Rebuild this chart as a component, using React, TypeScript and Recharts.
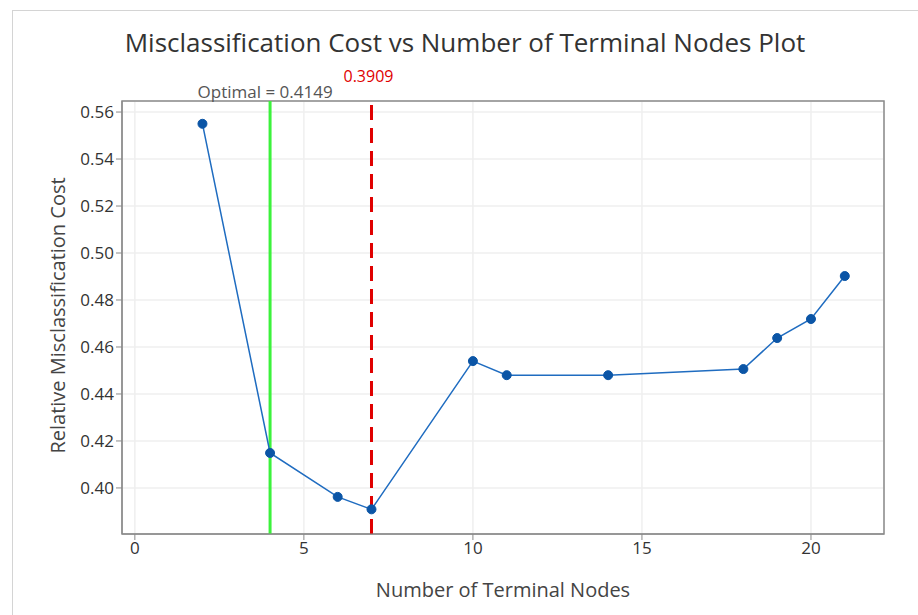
import React from 'react';
import { LineChart, Line, XAxis, YAxis, CartesianGrid, ReferenceLine, ReferenceArea } from 'recharts';

const nodes = [2, 4, 6, 7, 10, 11, 14, 18, 19, 20, 21];
const cost = [0.555, 0.4149, 0.3962, 0.3909, 0.454, 0.448, 0.448, 0.4506, 0.4638, 0.4719, 0.4902];
const xTicks = [0, 5, 10, 15, 20];
const yTicks = [0.4, 0.42, 0.44, 0.46, 0.48, 0.5, 0.52, 0.54, 0.56];
const optimalNodes = 4;
const optimalLabel = 'Optimal = 0.4149';
const minNodes = 7;
const minLabel = '0.3909';

const data = nodes.map((n, i) => ({ nodes: n, cost: cost[i] }));

const X_DOMAIN: [number, number] = [-0.38, 22.16];
const Y_DOMAIN: [number, number] = [0.3804, 0.5647];
const FONT = '"Open Sans", "Noto Sans", sans-serif';

const TopLabel = (props: any) => {
  const { viewBox, text, fill, dx, dy, size } = props;
  return (
    <text x={viewBox.x + dx} y={viewBox.y + dy} textAnchor="middle" fill={fill} fontSize={size} fontFamily={FONT}>
      {text}
    </text>
  );
};

const YLabel = (props: any) => {
  const { viewBox } = props;
  const x = viewBox.x - 5;
  const y = viewBox.y + viewBox.height / 2 - 2;
  return (
    <text x={x} y={y} transform={`rotate(-90, ${x}, ${y})`} textAnchor="middle" dominantBaseline="central" fill="#444" fontSize={20} fontFamily={FONT}>
      Relative Misclassification Cost
    </text>
  );
};

const XLabel = (props: any) => {
  const { viewBox } = props;
  return (
    <text x={viewBox.x + viewBox.width / 2} y={589} textAnchor="middle" dominantBaseline="central" fill="#444" fontSize={20} fontFamily={FONT}>
      Number of Terminal Nodes
    </text>
  );
};

const App: React.FC = () => {
  return (
    <div style={{ position: 'absolute', left: 0, top: 0, width: 918, height: 615, background: '#fff', overflow: 'hidden' }}>
      <div style={{ position: 'absolute', left: 12, top: 10, width: 930, height: 640, border: '1px solid #d4d4d4' }} />
      <div style={{ position: 'absolute', left: 0, top: 24, width: 930, textAlign: 'center', fontFamily: FONT, fontSize: 26, color: '#333' }}>
        Misclassification Cost vs Number of Terminal Nodes Plot
      </div>
      <div style={{ position: 'absolute', left: 0, top: 0 }}>
        <LineChart width={918} height={615} data={data} margin={{ top: 101, right: 34, bottom: 51, left: 62 }}>
          <CartesianGrid stroke="#efefef" strokeWidth={1.5} />
          <ReferenceArea x1={X_DOMAIN[0]} x2={X_DOMAIN[1]} y1={Y_DOMAIN[0]} y2={Y_DOMAIN[1]} fill="none" stroke="#8a8a8a" strokeWidth={1.5} />
          <XAxis
            type="number"
            dataKey="nodes"
            domain={X_DOMAIN}
            allowDataOverflow
            ticks={xTicks}
            height={30}
            tickSize={6}
            stroke="#8a8a8a"
            tick={{ fill: '#333', fontSize: 17, fontFamily: FONT }}
            label={<XLabel />}
          />
          <YAxis
            type="number"
            domain={Y_DOMAIN}
            allowDataOverflow
            ticks={yTicks}
            width={60}
            tickSize={6}
            stroke="#8a8a8a"
            tickFormatter={(v: number) => v.toFixed(2)}
            tick={{ fill: '#333', fontSize: 17, fontFamily: FONT }}
            label={<YLabel />}
          />
          <ReferenceLine x={optimalNodes} stroke="#3cf23c" strokeWidth={3}
            label={<TopLabel text={optimalLabel} fill="#555" dx={-5} dy={-3} size={17} />} />
          <ReferenceLine x={minNodes} stroke="#e00000" strokeWidth={3} strokeDasharray="15 8"
            label={<TopLabel text={minLabel} fill="#e00000" dx={-3} dy={-19} size={16} />} />
          <Line
            type="linear"
            dataKey="cost"
            stroke="#1f6cc0"
            strokeWidth={1.5}
            dot={{ r: 4.5, fill: '#0b55a6', stroke: '#0b55a6', strokeWidth: 1 }}
            isAnimationActive={false}
          />
        </LineChart>
      </div>
    </div>
  );
};

export default App;
